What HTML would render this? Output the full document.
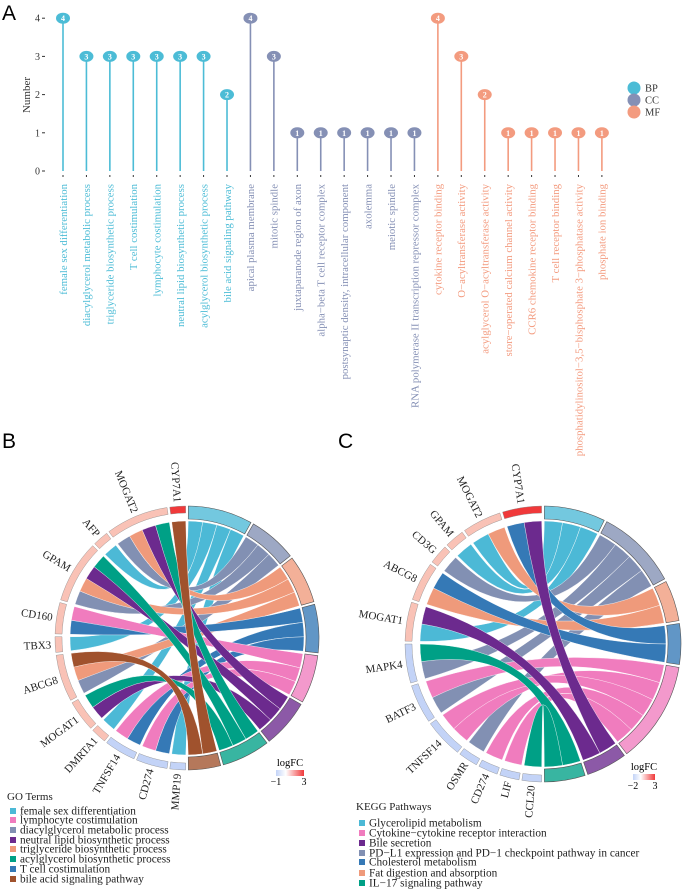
<!DOCTYPE html>
<html><head><meta charset="utf-8"><style>
body{margin:0;background:#fff;}
svg{display:block;font-family:"Liberation Serif",serif;}
</style></head><body>
<svg id="fig" width="687" height="892" viewBox="0 0 687 892"></svg>
<script>
// ---- Panel A data ----
const termsA = ["female sex differentiation","diacylglycerol metabolic process","triglyceride biosynthetic process","T cell costimulation","lymphocyte costimulation","neutral lipid biosynthetic process","acylglycerol biosynthetic process","bile acid signaling pathway","apical plasma membrane","mitotic spindle","juxtaparanode region of axon","alpha\u2212beta T cell receptor complex","postsynaptic density, intracellular component","axolemma","meiotic spindle","RNA polymerase II transcription repressor complex","cytokine receptor binding","O\u2212acyltransferase activity","acylglycerol O\u2212acyltransferase activity","store\u2212operated calcium channel activity","CCR6 chemokine receptor binding","T cell receptor binding","phosphatidylinositol\u22123,5\u2212bisphosphate 3\u2212phosphatase activity","phosphate ion binding"];
const countsA = [4,3,3,3,3,3,3,2,4,3,1,1,1,1,1,1,4,3,2,1,1,1,1,1];
const groupsA = ["BP","BP","BP","BP","BP","BP","BP","BP","CC","CC","CC","CC","CC","CC","CC","CC","MF","MF","MF","MF","MF","MF","MF","MF"];
const yTicksA = [0,1,2,3,4];
const groupNames = ["BP","CC","MF"];

// ---- Panel B data ----
const genesB = ["MMP19","CD274","TNFSF14","DMRTA1","MOGAT1","ABCG8","TBX3","CD160","GPAM","AFP","MOGAT2","CYP7A1"];
const logfcB = [-1,-1,-1,1,1,1,1,1,1,1,1,3];
const goTerms = ["female sex differentiation","diacylglycerol metabolic process","triglyceride biosynthetic process","T cell costimulation","lymphocyte costimulation","neutral lipid biosynthetic process","acylglycerol biosynthetic process","bile acid signaling pathway"];
const goLinks = [["AFP",0],["TBX3",0],["DMRTA1",0],["MMP19",0],["MOGAT2",1],["GPAM",1],["ABCG8",1],["MOGAT2",2],["GPAM",2],["ABCG8",2],["CD160",3],["TNFSF14",3],["CD274",3],["CD160",4],["TNFSF14",4],["CD274",4],["MOGAT2",5],["GPAM",5],["MOGAT1",5],["MOGAT2",6],["GPAM",6],["MOGAT1",6],["CYP7A1",7],["ABCG8",7]];
const goLegend = ["female sex differentiation","lymphocyte costimulation","diacylglycerol metabolic process","neutral lipid biosynthetic process","triglyceride biosynthetic process","acylglycerol biosynthetic process","T cell costimulation","bile acid signaling pathway"];

// ---- Panel C data ----
const genesC = ["CCL20","LIF","CD274","OSMR","TNFSF14","BATF3","MAPK4","MOGAT1","ABCG8","CD3G","GPAM","MOGAT2","CYP7A1"];
const logfcC = [-1,-1,-1,-1,-1,-1,-1,1,1,1,1,1,3];
const keggTerms = ["Glycerolipid metabolism","PD\u2212L1 expression and PD\u22121 checkpoint pathway in cancer","Fat digestion and absorption","Cholesterol metabolism","Cytokine\u2212cytokine receptor interaction","Bile secretion","IL\u221217 signaling pathway"];
const keggLinks = [["MOGAT2",0],["GPAM",0],["MOGAT1",0],["CD3G",1],["MAPK4",1],["BATF3",1],["OSMR",1],["MOGAT2",2],["ABCG8",2],["CYP7A1",3],["ABCG8",3],["BATF3",4],["TNFSF14",4],["TNFSF14",4],["CD274",4],["LIF",4],["CYP7A1",5],["MOGAT1",5],["MAPK4",6],["CCL20",6]];
const keggLegend = ["Glycerolipid metabolism","Cytokine\u2212cytokine receptor interaction","Bile secretion","PD\u2212L1 expression and PD\u22121 checkpoint pathway in cancer","Cholesterol metabolism","Fat digestion and absorption","IL\u221217 signaling pathway"];

const NS="http://www.w3.org/2000/svg";
const svg=document.getElementById('fig');
function mk(tag,attrs,parent,text){const e=document.createElementNS(NS,tag);for(const k in attrs)e.setAttribute(k,attrs[k]);if(text!==undefined)e.textContent=text;(parent||svg).appendChild(e);return e;}
const gcol={BP:"#4cbcd6",CC:"#8590b5",MF:"#f39b7f"};
const tcol={"female sex differentiation":"#4cb9d6","diacylglycerol metabolic process":"#8290b3","triglyceride biosynthetic process":"#ef9a7b","T cell costimulation":"#3579b6","lymphocyte costimulation":"#f07cbe","neutral lipid biosynthetic process":"#6c2a8e","acylglycerol biosynthetic process":"#00a086","bile acid signaling pathway":"#a0522d",
"Glycerolipid metabolism":"#4cb9d6","PD\u2212L1 expression and PD\u22121 checkpoint pathway in cancer":"#8290b3","Fat digestion and absorption":"#ef9a7b","Cholesterol metabolism":"#3579b6","Cytokine\u2212cytokine receptor interaction":"#f07cbe","Bile secretion":"#6c2a8e","IL\u221217 signaling pathway":"#00a086"};

let t;
t=mk('text',{x:2,y:20,'font-family':'Liberation Sans, sans-serif','font-size':21},svg,'A');
t=mk('text',{x:2,y:448,'font-family':'Liberation Sans, sans-serif','font-size':21},svg,'B');
t=mk('text',{x:338,y:448,'font-family':'Liberation Sans, sans-serif','font-size':21},svg,'C');

// ---- Panel A ----
const gA=mk('g',{});


const y0=171,yStep=38.2,x0=63,xStep=23.43;
const yA=v=>y0-v*yStep, xA=i=>x0+i*xStep;
yTicksA.forEach(v=>{
 const tl=mk('text',{x:40,y:yA(v)+3.5,'font-size':10,'text-anchor':'end',fill:'#333'},gA,v);
 
 
 mk('line',{x1:42,x2:45,y1:yA(v),y2:yA(v),stroke:'#333','stroke-width':1},gA);
});
const yt=mk('text',{x:0,y:0,'font-size':11,'text-anchor':'middle',transform:'translate(30,95) rotate(-90)',fill:'#333'},gA,'Number');


termsA.forEach((name,i)=>{
 const c=gcol[groupsA[i]],x=xA(i);
 const st=mk('line',{x1:x,x2:x,y1:yA(0),y2:yA(countsA[i]),stroke:c,'stroke-width':1.6},gA);
 
 
 const d=mk('ellipse',{cx:x,cy:yA(countsA[i]),rx:7,ry:5.5,fill:c},gA);
 
 
 mk('text',{x:x,y:yA(countsA[i])+3,'font-size':8,'text-anchor':'middle',fill:'#fff','font-weight':'bold'},gA,countsA[i]);
 mk('line',{x1:x,x2:x,y1:175,y2:177,stroke:'#333','stroke-width':1},gA);
 const lb=mk('text',{x:0,y:0,'font-size':10.8,'text-anchor':'end',fill:c,transform:`translate(${x+3.8},184) rotate(-90)`},gA,name);
 
 
});
groupNames.forEach((g,i)=>{
 const y=88+i*12;
 const lc=mk('circle',{cx:634,cy:y,r:6.5,fill:gcol[g]},gA);
 
 
 const lt=mk('text',{x:645,y:y+3.5,'font-size':10.5,fill:'#333'},gA,g);
 
 
});

function chord(cx,cy,R,genes,logfc,terms,links,name){
 const g=mk('g',{});
 
 
 const pt=(deg,r)=>{const a=deg*Math.PI/180;return [cx+r*Math.sin(a),cy-r*Math.cos(a)];};
 const gap=1.2;
 const gCount=genes.map(n=>links.filter(l=>l[0]===n).length);
 const tCount=terms.map((n,i)=>links.filter(l=>l[1]===i).length);
 const totG=gCount.reduce((a,b)=>a+b,0),totT=tCount.reduce((a,b)=>a+b,0);
 const ug=(180-gap*genes.length)/totG, ut=(180-gap*terms.length)/totT;
 const gStart=[],tStart=[];let a=180+gap/2;
 gCount.forEach(c=>{gStart.push(a);a+=c*ug+gap;});
 a=gap/2;tCount.forEach(c=>{tStart.push(a);a+=c*ut+gap;});
 const arcPath=(a1,a2,r1,r2)=>{const p1=pt(a1,r2),p2=pt(a2,r2),p3=pt(a2,r1),p4=pt(a1,r1);const lg=(a2-a1)>180?1:0;
  return `M${p1}A${r2},${r2} 0 ${lg} 1 ${p2}L${p3}A${r1},${r1} 0 ${lg} 0 ${p4}Z`;};
 const colFC=v=>{if(v>=3)return '#f0393a';if(v>0)return '#f9c2b6';return '#c3d3f7';};
 const gUsed=genes.map(()=>0),tUsed=terms.map(()=>0);
 const ri=R-15;
 links.forEach(l=>{
  const gi=genes.indexOf(l[0]),ti=l[1];
  const a1=gStart[gi]+gUsed[gi]*ug,a2=a1+ug;gUsed[gi]++;
  const b1=tStart[ti]+tUsed[ti]*ut,b2=b1+ut;tUsed[ti]++;
  const P=(d)=>pt(d,ri).map(v=>v.toFixed(1)).join(',');
  const d=`M${P(a1)}A${ri},${ri} 0 0 1 ${P(a2)}Q${cx},${cy} ${P(b1)}A${ri},${ri} 0 0 1 ${P(b2)}Q${cx},${cy} ${P(a1)}Z`;
  const c=mk('path',{d:d,fill:tcol[terms[ti]],stroke:'#fff','stroke-width':0.4},g);
  
  
 });
 terms.forEach((n,i)=>{
  const s=mk('path',{d:arcPath(tStart[i],tStart[i]+tCount[i]*ut,R-13,R),fill:tcol[n],'fill-opacity':0.78,stroke:'#555','stroke-width':0.6},g);
  
  
 });
 genes.forEach((n,i)=>{
  const a1=gStart[i],a2=a1+gCount[i]*ug;
  const s=mk('path',{d:arcPath(a1,a2,R-7,R),fill:colFC(logfc[i]),stroke:'#888','stroke-width':0.4},g);
  
  
  const m=(a1+a2)/2,p=pt(m,R+4);
  const lb=mk('text',{x:0,y:0,'font-size':11,'text-anchor':'end',fill:'#222',transform:`translate(${p[0].toFixed(1)},${p[1].toFixed(1)}) rotate(${(m-270).toFixed(1)}) translate(0,3.5)`},g,n);
  
  
 });
 return g;
}
chord(187,638,132,genesB,logfcB,goTerms,goLinks,'go-chord-diagram');
chord(543,644,138,genesC,logfcC,keggTerms,keggLinks,'kegg-chord-diagram');

const defs=mk('defs',{});
const lg=mk('linearGradient',{id:'fc',x1:0,x2:1,y1:0,y2:0},defs);
mk('stop',{offset:0,'stop-color':'#c3d3f7'},lg);mk('stop',{offset:0.35,'stop-color':'#fff'},lg);mk('stop',{offset:1,'stop-color':'#f0393a'},lg);
function fcLegend(x,y,w,lo,hi,name){
 const g=mk('g',{});
 
 
 mk('text',{x:x+w/2,y:y,'font-size':10.5,'text-anchor':'middle'},g,'logFC');
 mk('rect',{x:x,y:y+4,width:w,height:6,fill:'url(#fc)'},g);
 mk('text',{x:x,y:y+19,'font-size':10,'text-anchor':'middle'},g,lo);
 mk('text',{x:x+w,y:y+19,'font-size':10,'text-anchor':'middle'},g,hi);
}
fcLegend(276,766,28,'\u22121','3','go-logfc-legend');
fcLegend(633,770,22,'\u22122','3','kegg-logfc-legend');

function termLegend(x,y,title,items,ys,name){
 const g=mk('g',{});
 
 
 mk('text',{x:x,y:y,'font-size':11,fill:'#222'},g,title);
 items.forEach((it,i)=>{
  const yy=ys[i];
  const r=mk('rect',{x:x+3,y:yy-3,width:6,height:6,fill:tcol[it]},g);
  
  
  const tx=mk('text',{x:x+13,y:yy+3.5,'font-size':11.3,fill:'#222'},g,it);
  
  
 });
}
termLegend(7,800,'GO Terms',goLegend,[811,820,830,840,849,859,869,879],'go-legend');
termLegend(356,810,'KEGG Pathways',keggLegend,[823,833,843,853,862,873,883],'kegg-legend');
</script>
</body></html>
